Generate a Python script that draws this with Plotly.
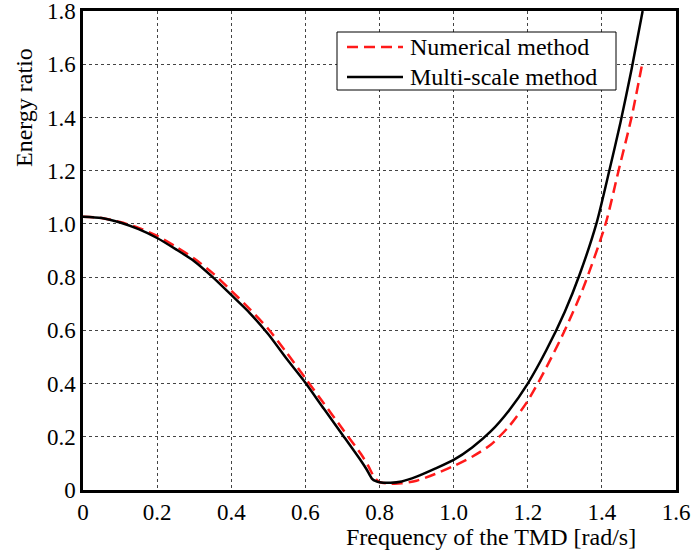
import plotly.graph_objects as go

# Multi-scale method (black solid)
ms_x = [0, 0.05, 0.1, 0.15, 0.2, 0.25, 0.3, 0.35, 0.4, 0.45, 0.5, 0.55, 0.6, 0.65, 0.7, 0.75,
        0.765, 0.78, 0.79, 0.8, 0.83, 0.86, 0.9, 0.95, 1.0, 1.05, 1.1, 1.15, 1.2, 1.25, 1.3,
        1.34, 1.385, 1.42, 1.45, 1.48, 1.51]
ms_y = [1.027, 1.022, 1.005, 0.98, 0.947, 0.905, 0.86, 0.80, 0.733, 0.665, 0.585, 0.492, 0.403,
        0.305, 0.208, 0.11, 0.078, 0.042, 0.033, 0.029, 0.027, 0.032, 0.05, 0.08, 0.113, 0.16,
        0.22, 0.30, 0.40, 0.525, 0.67, 0.81, 1.0, 1.2, 1.38, 1.58, 1.8]

# Numerical method (red dashed)
num_x = [0, 0.05, 0.1, 0.15, 0.2, 0.25, 0.3, 0.35, 0.4, 0.45, 0.5, 0.55, 0.6, 0.65, 0.7, 0.75,
         0.77, 0.785, 0.8, 0.83, 0.86, 0.9, 0.95, 1.0, 1.05, 1.1, 1.15, 1.2, 1.25, 1.3,
         1.35, 1.41, 1.445, 1.48, 1.51]
num_y = [1.027, 1.022, 1.007, 0.985, 0.955, 0.915, 0.87, 0.815, 0.749, 0.68, 0.605, 0.515, 0.42,
         0.325, 0.23, 0.135, 0.09, 0.05, 0.03, 0.024, 0.025, 0.035, 0.06, 0.09, 0.125, 0.17, 0.24,
         0.335, 0.46, 0.6, 0.76, 1.0, 1.2, 1.4, 1.61]

x_ticks = [0, 0.2, 0.4, 0.6, 0.8, 1.0, 1.2, 1.4, 1.6]
x_tick_labels = ["0", "0.2", "0.4", "0.6", "0.8", "1.0", "1.2", "1.4", "1.6"]
y_ticks = [0, 0.2, 0.4, 0.6, 0.8, 1.0, 1.2, 1.4, 1.6, 1.8]
y_tick_labels = ["0", "0.2", "0.4", "0.6", "0.8", "1.0", "1.2", "1.4", "1.6", "1.8"]

series_names = ["Numerical method", "Multi-scale method"]

FONT = "Liberation Serif"
RED = "#ff1a1a"
RED_DASH = "11px,6px"

# plot area in pixels (for paper-coordinate conversions)
L, R, T, B = 83, 676, 11, 490
W, H = R - L, B - T


def px(xp):
    return (xp - L) / W


def py(yp):
    return (B - yp) / H


fig = go.Figure()
fig.add_trace(go.Scatter(x=num_x, y=num_y, mode="lines", name=series_names[0], showlegend=False,
                         line=dict(color=RED, width=2.5, dash=RED_DASH, shape="spline",
                                   smoothing=0.7)))
fig.add_trace(go.Scatter(x=ms_x, y=ms_y, mode="lines", name=series_names[1], showlegend=False,
                         line=dict(color="black", width=2.5, shape="spline", smoothing=0.7)))

common = dict(showline=True, linecolor="black", linewidth=2.5, mirror=True, ticks="",
              zeroline=False, automargin=False, showgrid=True, gridcolor="#444444",
              gridwidth=1, griddash="3px,3px", ticklabeloverflow="allow",
              tickfont=dict(family=FONT, size=23, color="black"))
fig.update_xaxes(range=[0, 1.6], tickvals=x_ticks, ticktext=x_tick_labels, **common)
fig.update_yaxes(range=[0, 1.8], tickvals=y_ticks, ticktext=y_tick_labels, **common)

fig.add_annotation(text="Frequency of the TMD [rad/s]", xref="paper", yref="paper",
                   x=px(491), y=py(537), showarrow=False,
                   font=dict(family=FONT, size=24, color="black"),
                   xanchor="center", yanchor="middle")
fig.add_annotation(text="Energy ratio", xref="paper", yref="paper",
                   x=px(24), y=py(108), showarrow=False, textangle=-90,
                   font=dict(family=FONT, size=24, color="black"),
                   xanchor="center", yanchor="middle")

# legend box (drawn manually to match the longer line samples)
fig.add_shape(type="rect", xref="paper", yref="paper", x0=px(337), x1=px(616), y0=py(90),
              y1=py(32), line=dict(color="black", width=1), fillcolor="white", layer="above")
leg_rows = [47, 77]
leg_styles = [dict(color=RED, width=2.5, dash=RED_DASH), dict(color="black", width=2.5)]
for name, row, st in zip(series_names, leg_rows, leg_styles):
    fig.add_shape(type="line", xref="paper", yref="paper", x0=px(347), x1=px(403),
                  y0=py(row), y1=py(row), line=st, layer="above")
    fig.add_annotation(text=name, xref="paper", yref="paper", x=px(408), y=py(row),
                       showarrow=False, xanchor="left", yanchor="middle",
                       font=dict(family=FONT, size=24, color="black"))

fig.update_layout(
    width=691, height=552,
    margin=dict(l=L, r=691 - R, t=T, b=552 - B),
    plot_bgcolor="white", paper_bgcolor="white",
    showlegend=False,
)

fig.write_html("out.html", config={"displayModeBar": False},
               post_script="document.body.style.margin='0';")
